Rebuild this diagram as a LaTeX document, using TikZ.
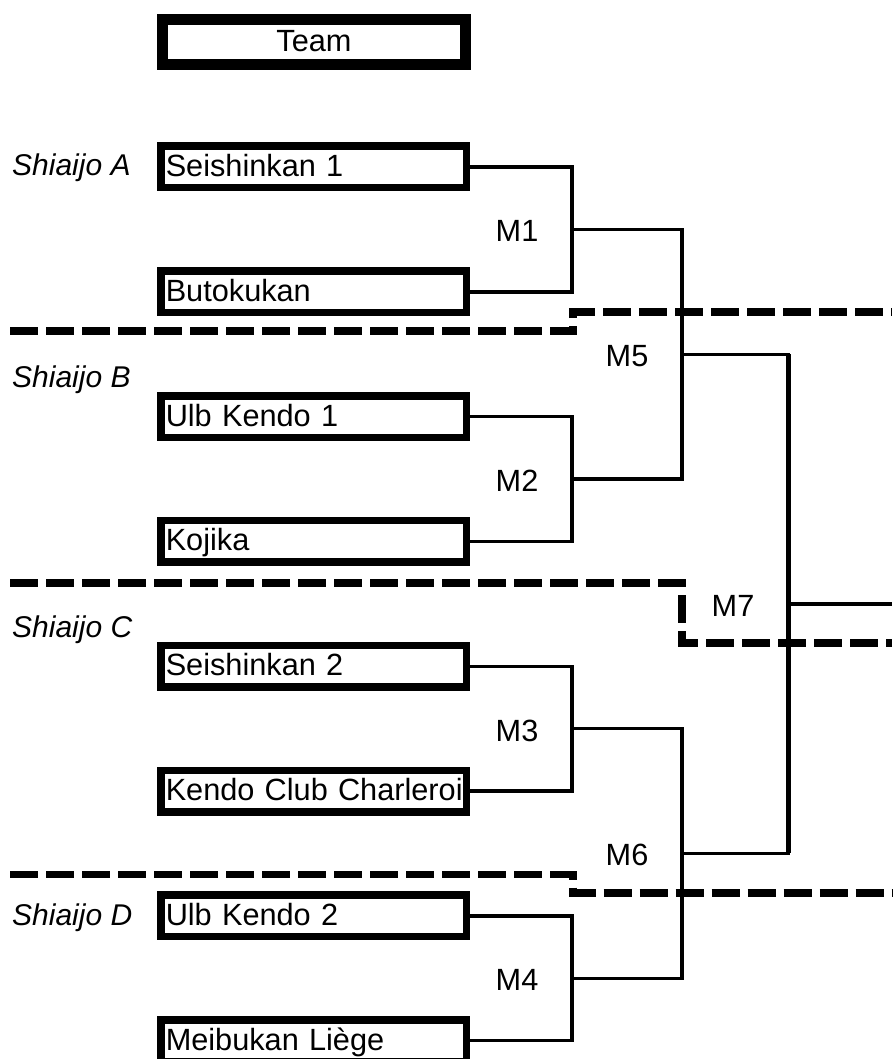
\documentclass[tikz,border=0pt]{standalone}
\usepackage{fontspec}
\setmainfont{Liberation Sans}
\usetikzlibrary{positioning}
\begin{document}
\begin{tikzpicture}[x=1pt, y=-1pt, node distance={124.8pt}, font=\fontsize{30.7}{36}\selectfont,
  team/.style = {draw, line width=7.5pt, text width=295.5pt, inner xsep=5pt, inner ysep=2pt, minimum height=41.5pt, text height=22pt, text depth=3pt, align=left},
  head/.style = {draw, line width=11pt, minimum width=303pt, minimum height=45pt, inner sep=2pt, text height=22pt, text depth=3pt},
  link/.style = {line width=3.4pt},
  zone/.style = {line width=7.5pt, dash pattern=on 28pt off 8pt},
  area/.style = {anchor=base west, inner sep=0pt, font=\fontsize{30}{36}\selectfont\itshape},
  match/.style = {inner sep=0pt, xshift=-55pt, yshift=-2pt}]
\useasboundingbox (0,0) rectangle (892,1059);

\node[head] (hd) at (314,42) {Team};
\node[team] (t1) at (313.5,167) {Seishinkan 1};
\node[team] (t2) [below of=t1] {Butokukan};
\node[team] (t3) [below of=t2] {Ulb Kendo 1};
\node[team] (t4) [below of=t3] {Kojika};
\node[team] (t5) [below of=t4] {Seishinkan 2};
\node[team] (t6) [below of=t5] {\mbox{Kendo Club Charleroi}};
\node[team] (t7) [below of=t6] {Ulb Kendo 2};
\node[team] (t8) [below of=t7] {Meibukan Liège};

% shiaijo areas
\node[area] (za) at (12,176) {Shiaijo A};
\node[area] (zb) at (12,387) {Shiaijo B};
\node[area] (zc) at (12,637) {Shiaijo C};
\node[area] (zd) at (12,925) {Shiaijo D};
\draw[zone] (10,331) -| (573,312) -- (892,312);
\draw[zone] (10,583) -| (682,643) -- (892,643);
\draw[zone] (10,874.5) -| (573,893) -- (892,893);

\coordinate (m1) at (572,229.4);
\coordinate (m2) at (572,479);
\coordinate (m3) at (572,728.6);
\coordinate (m4) at (572,978.2);
\coordinate (m5) at (682,354.2);
\coordinate (m6) at (682,853.4);
\coordinate (m7) at (788,603.8);
\coordinate (fin) at (892,603.8);

\draw[link] (t1.east) -| (m1) |- (t2.east);
\draw[link] (t3.east) -| (m2) |- (t4.east);
\draw[link] (t5.east) -| (m3) |- (t6.east);
\draw[link] (t7.east) -| (m4) |- (t8.east);
\draw[link] (m1) -| (m5) |- (m2);
\draw[link] (m3) -| (m6) |- (m4);
\draw[link] (m5) -| (m7) |- (m6);
\draw[line width=5pt] (m5 -| m7) -- (m6 -| m7);
\draw[link] (m7) -- (fin);

\node[match] (l1) at (m1) {M1};
\node[match] (l2) at (m2) {M2};
\node[match] (l3) at (m3) {M3};
\node[match] (l4) at (m4) {M4};
\node[match] (l5) at (m5) {M5};
\node[match] (l6) at (m6) {M6};
\node[match] (l7) at (m7) {M7};
\end{tikzpicture}
\end{document}
